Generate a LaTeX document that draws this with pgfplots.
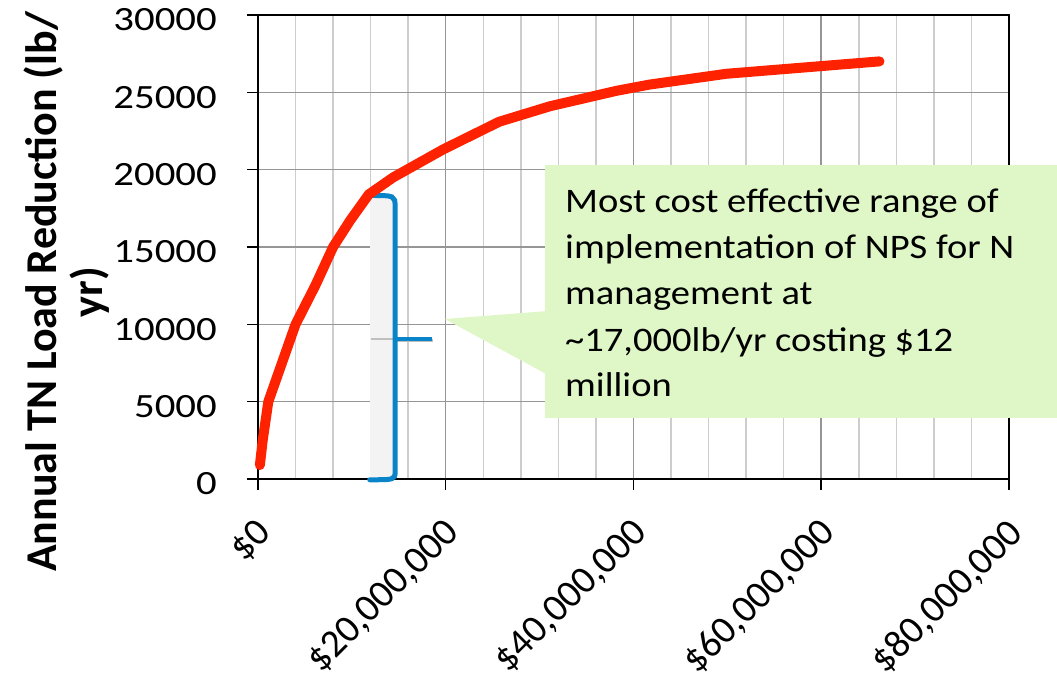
\documentclass[border=0pt]{standalone}
\usepackage{fontspec}
\setmainfont{Carlito}
\newfontfamily\tickfont[FakeStretch=1.2]{Carlito}
\newfontfamily\notefont[FakeStretch=1.12]{Carlito}
\usepackage{pgfplots}
\pgfplotsset{compat=1.18}
\definecolor{curvered}{RGB}{255,34,0}
\definecolor{callgreen}{RGB}{223,246,199}
\definecolor{brblue}{RGB}{10,132,200}
\definecolor{majgrid}{RGB}{150,150,150}
\definecolor{mingrid}{RGB}{205,205,205}
\definecolor{brgray}{RGB}{243,243,243}
\begin{document}
\begin{tikzpicture}
\useasboundingbox (-258pt,-205pt) rectangle (799pt,479pt);
\begin{axis}[
  at={(0pt,0pt)}, anchor=south west,
  scale only axis, width=751pt, height=464pt,
  xmin=0, xmax=80000000, ymin=0, ymax=30000,
  xtick={0,20000000,40000000,60000000,80000000},
  xticklabels={{\$0},{\$20,000,000},{\$40,000,000},{\$60,000,000},{\$80,000,000}},
  minor xtick={4000000,8000000,12000000,16000000,24000000,28000000,32000000,36000000,44000000,48000000,52000000,56000000,64000000,68000000,72000000,76000000},
  ytick={0,5000,10000,15000,20000,25000,30000},
  yticklabels={0,5000,10000,15000,20000,25000,30000},
  scaled x ticks=false, scaled y ticks=false,
  xmajorgrids, xminorgrids, ymajorgrids,
  major grid style={majgrid, line width=1.5pt},
  minor grid style={mingrid, line width=1.5pt},
  axis line style={black, line width=1.8pt},
  major tick style={black, line width=1.5pt},
  tick align=outside, major tick length=11pt, minor tick length=0pt,
  xtick pos=left, ytick pos=left,
  yticklabel style={font=\tickfont\fontsize{34}{40}\selectfont, inner sep=0pt, anchor=east, xshift=-30pt, yshift=-5pt},
  xticklabel style={font=\fontsize{39}{44}\selectfont, inner sep=0pt, xshift=-3pt, yshift=-26pt, rotate=45, anchor=north east},
  clip=false,
]
% bracket annotation
\fill[brgray] (axis cs:11900000,0) rectangle (axis cs:14500000,18300);
\draw[gray!50, line width=1.5pt] (axis cs:12000000,9050) -- (axis cs:14500000,9050);
\draw[black!25, line width=3pt] (axis cs:14800000,8950) -- (axis cs:18600000,8950);
\draw[brblue, line width=4pt] (axis cs:14500000,9050) -- (axis cs:18500000,9050);
\draw[brblue, line width=5pt, line cap=round]
  (axis cs:11900000,18330) .. controls (axis cs:14600000,18330) .. (axis cs:14600000,17600)
  -- (axis cs:14600000,500) .. controls (axis cs:14600000,-50) .. (axis cs:11900000,-50);
\addplot[curvered, line width=10pt, line cap=round, line join=round] coordinates {
 (200000,900) (500000,2500) (1100000,5000) (4000000,10000)
 (6100000,12500) (8000000,15000) (9800000,16700) (11800000,18400) (14400000,19500)
 (19700000,21300) (25700000,23100) (31100000,24100) (38200000,25100) (41700000,25500)
 (49900000,26200) (66200000,27000)};
\end{axis}
% y label
\node[rotate=90, font=\bfseries\fontsize{44}{46}\selectfont, align=center] at (-191pt,187pt) {Annual TN Load Reduction (lb/\\yr)};
% callout
\fill[callgreen] (287pt,61pt) rectangle (820pt,314pt);
\fill[callgreen] (187pt,160pt) -- (290pt,168pt) -- (290pt,104pt) -- cycle;
\begin{scope}[every node/.style={anchor=base west, inner sep=0pt, font=\notefont\fontsize{34.4}{40}\selectfont}]
\node at (307pt,266pt) {Most cost effective range of};
\node at (307pt,220pt) {implementation of NPS for N};
\node at (307pt,174pt) {management at};
\node at (307pt,127pt) {\textasciitilde17,000lb/yr costing \$12};
\node at (307pt,82pt) {million};
\end{scope}
\end{tikzpicture}
\end{document}
